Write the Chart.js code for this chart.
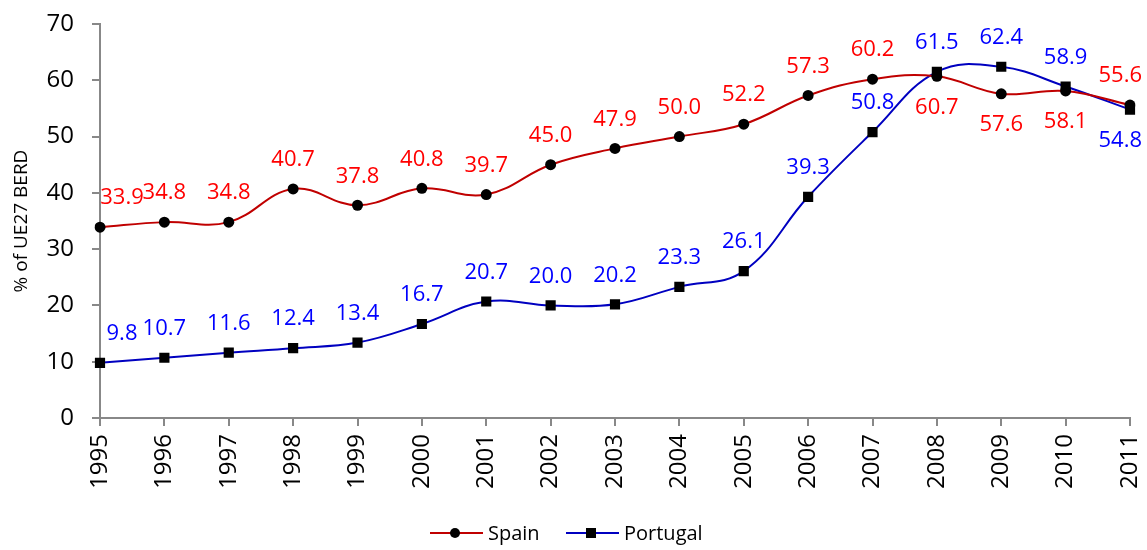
<!DOCTYPE html>
<html>
<head>
<meta charset="utf-8">
<script src="https://cdn.jsdelivr.net/npm/chart.js@4/dist/chart.umd.min.js"></script>
<style>
  html, body { margin: 0; padding: 0; background: #fff; }
  #wrap { width: 1147px; height: 550px; }
</style>
</head>
<body>
<div id="wrap"><canvas id="c" width="1147" height="550"></canvas></div>
<script>
// data
const years = ['1995','1996','1997','1998','1999','2000','2001','2002','2003','2004','2005','2006','2007','2008','2009','2010','2011'];
const spain = [33.9, 34.8, 34.8, 40.7, 37.8, 40.8, 39.7, 45.0, 47.9, 50.0, 52.2, 57.3, 60.2, 60.7, 57.6, 58.1, 55.6];
const portugal = [9.8, 10.7, 11.6, 12.4, 13.4, 16.7, 20.7, 20.0, 20.2, 23.3, 26.1, 39.3, 50.8, 61.5, 62.4, 58.9, 54.8];

const FONT = '"Open Sans", "Noto Sans", sans-serif';
const labelColors = ['#ff0000', '#0000ff'];

// value labels: when both series are close, the lower one gets its label underneath
const valueLabels = {
  id: 'valueLabels',
  afterDatasetsDraw(chart) {
    const ctx = chart.ctx;
    const a = chart.data.datasets[0].data, b = chart.data.datasets[1].data;
    ctx.save();
    ctx.font = '22px ' + FONT;
    ctx.textAlign = 'center';
    ctx.textBaseline = 'middle';
    chart.data.datasets.forEach((ds, di) => {
      const meta = chart.getDatasetMeta(di);
      ctx.fillStyle = labelColors[di];
      meta.data.forEach((pt, i) => {
        const txt = ds.data[i].toFixed(1);
        const mine = ds.data[i], other = di === 0 ? b[i] : a[i];
        const below = Math.abs(mine - other) < 5 && mine < other;
        const half = ctx.measureText(txt).width / 2;
        let x = pt.x;
        if (i === 0) x += 22;
        // keep the label inside the canvas on the right
        x = Math.min(x, chart.width - 5 - half);
        const y = below ? pt.y + 31 : pt.y - 29;
        ctx.fillText(txt, x, y);
      });
    });
    ctx.restore();
  }
};

// excel-like legend: line with marker in the middle
const lineLegend = {
  id: 'lineLegend',
  afterDraw(chart) {
    const ctx = chart.ctx;
    const y = 533;
    const items = [
      { x: 430, ds: chart.data.datasets[0] },
      { x: 566, ds: chart.data.datasets[1] }
    ];
    ctx.save();
    ctx.font = '20px ' + FONT;
    ctx.textBaseline = 'middle';
    items.forEach(it => {
      ctx.strokeStyle = it.ds.borderColor;
      ctx.lineWidth = 2;
      ctx.beginPath();
      ctx.moveTo(it.x, y);
      ctx.lineTo(it.x + 53, y);
      ctx.stroke();
      ctx.fillStyle = '#000';
      if (it.ds.pointStyle === 'rect') {
        ctx.fillRect(it.x + 20, y - 5, 10, 10);
      } else {
        ctx.beginPath();
        ctx.arc(it.x + 25, y, 5, 0, Math.PI * 2);
        ctx.fill();
      }
      ctx.fillText(it.ds.label, it.x + 58, y + 1);
    });
    ctx.restore();
  }
};

new Chart(document.getElementById('c'), {
  type: 'line',
  data: {
    labels: years,
    datasets: [
      {
        label: 'Spain',
        data: spain,
        borderColor: '#c00000',
        borderWidth: 2,
        tension: 0.4,
        pointStyle: 'circle',
        pointRadius: 5.5,
        pointBackgroundColor: '#000',
        pointBorderColor: '#000',
        pointBorderWidth: 0
      },
      {
        label: 'Portugal',
        data: portugal,
        borderColor: '#0000c0',
        borderWidth: 2,
        tension: 0.4,
        pointStyle: 'rect',
        pointRadius: 7.2,
        pointBackgroundColor: '#000',
        pointBorderColor: '#000',
        pointBorderWidth: 0
      }
    ]
  },
  options: {
    responsive: false,
    animation: false,
    layout: { padding: { left: 0, right: 17, top: 24, bottom: 0 } },
    plugins: {
      legend: { display: false },
      tooltip: { enabled: false }
    },
    scales: {
      x: {
        offset: false,
        border: { color: '#888', width: 2 },
        grid: { drawOnChartArea: false, color: '#888', tickLength: 8, lineWidth: 2 },
        ticks: {
          color: '#000',
          font: { family: FONT, size: 24 },
          minRotation: 90,
          maxRotation: 90,
          padding: 8,
          autoSkip: false
        },
        afterFit(scale) {
          scale.height = 132;
          scale.paddingLeft = 0;
          scale.paddingRight = 0;
        }
      },
      y: {
        min: 0,
        max: 70,
        border: { color: '#888', width: 2 },
        grid: { drawOnChartArea: false, color: '#888', tickLength: 8, lineWidth: 2 },
        ticks: {
          stepSize: 10,
          color: '#000',
          font: { family: FONT, size: 24 },
          padding: 18
        },
        title: {
          display: true,
          text: '% of UE27 BERD',
          color: '#000',
          font: { family: FONT, size: 19 },
          padding: { top: 10, bottom: 0 }
        },
        afterFit(scale) {
          scale.width = 100;
          scale.paddingTop = 0;
          scale.paddingBottom = 0;
        }
      }
    }
  },
  plugins: [valueLabels, lineLegend]
});
</script>
</body>
</html>
